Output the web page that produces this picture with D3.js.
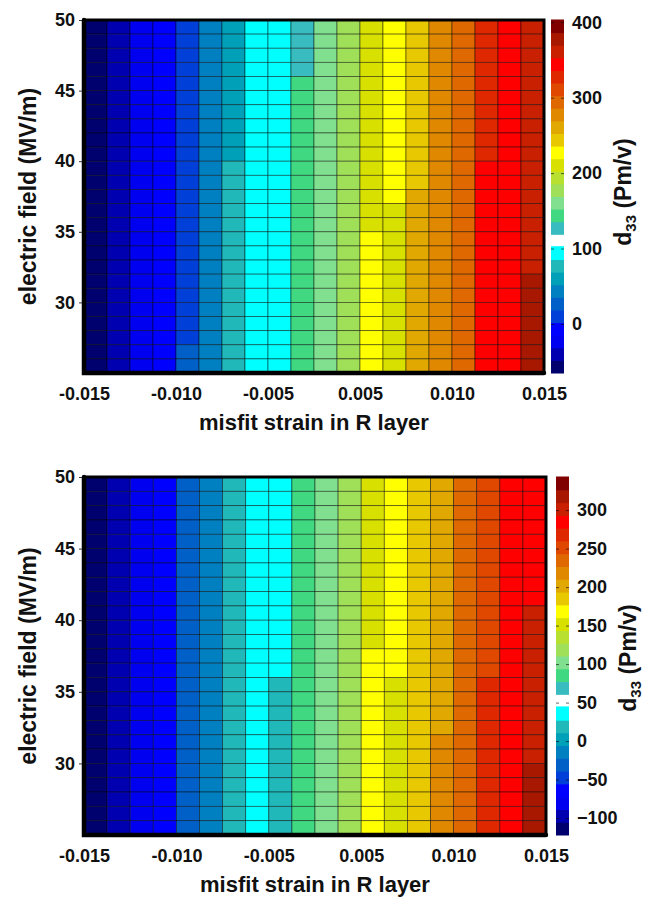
<!DOCTYPE html>
<html>
<head>
<meta charset="utf-8">
<script src="https://cdn.jsdelivr.net/npm/d3@7/dist/d3.min.js"></script>
<style>
  body { margin: 0; background: #fff; }
  svg text { font-family: "Liberation Sans", Arial, sans-serif; font-weight: bold; fill: #111; }
</style>
</head>
<body>
<svg id="fig" width="654" height="900"></svg>
<script>
// misfit strain, left edge of every cell column
const strain = [-0.0150, -0.0135, -0.0120, -0.0105, -0.0090, -0.0075, -0.0060, -0.0045, -0.0030, -0.0015,
                 0.0000,  0.0015,  0.0030,  0.0045,  0.0060,  0.0075,  0.0090,  0.0105,  0.0120,  0.0135]
const strainStep = 0.0015
// electric field (MV/m), lower edge of every cell row, top row first
const field = [49, 48, 47, 46, 45, 44, 43, 42, 41, 40, 39, 38, 37, 36, 35, 34, 33, 32, 31, 30, 29, 28, 27, 26, 25]
const fieldStep = 1

// the axis labels are spread evenly, 0 is not printed
const xTickValues = [-0.015, -0.009, -0.003, 0.003, 0.009, 0.015]
const xTickLabels = ["-0.015", "-0.010", "-0.005", "0.005", "0.010", "0.015"]
const yTickValues = [30, 35, 40, 45, 50]

const topRange = [-65, 403]
const topTicks = [0, 100, 200, 300, 400]
const botRange = [-122, 343]
const botTicks = [-100, -50, 0, 50, 100, 150, 200, 250, 300]

// d33 (pm/V), upper panel, rows in the order of `field`
const d33Top = [
  [-56, -40, -23, -7, 10, 44, 60, 94, 110, 127, 160, 177, 211, 228, 244, 278, 294, 328, 345, 361],
  [-56, -40, -23, -7, 10, 44, 60, 94, 110, 127, 160, 177, 211, 228, 244, 278, 294, 328, 345, 361],
  [-56, -40, -23, -7, 10, 44, 60, 94, 110, 127, 160, 177, 211, 228, 244, 278, 294, 328, 345, 361],
  [-56, -40, -23, -7, 10, 44, 60, 94, 110, 127, 160, 177, 211, 228, 244, 278, 294, 328, 345, 361],
  [-56, -40, -23, -7, 10, 44, 60, 94, 110, 144, 160, 177, 211, 228, 244, 278, 294, 328, 345, 361],
  [-56, -40, -23, -7, 10, 44, 60, 94, 110, 144, 160, 177, 211, 228, 244, 278, 294, 328, 345, 361],
  [-56, -40, -23, -7, 10, 44, 60, 94, 110, 144, 160, 177, 211, 228, 244, 278, 294, 328, 345, 361],
  [-56, -40, -23, -7, 10, 44, 60, 94, 110, 144, 160, 177, 211, 228, 244, 278, 294, 328, 345, 361],
  [-56, -40, -23, -7, 10, 44, 60, 94, 110, 144, 160, 177, 211, 228, 244, 278, 294, 328, 345, 361],
  [-56, -40, -23, -7, 10, 44, 60, 94, 110, 144, 160, 177, 211, 228, 244, 278, 294, 328, 345, 361],
  [-56, -40, -23, -7, 10, 44, 77, 94, 110, 144, 160, 177, 211, 228, 244, 278, 294, 345, 345, 361],
  [-56, -40, -23, -7, 10, 44, 77, 94, 110, 144, 160, 177, 211, 228, 244, 278, 294, 345, 345, 361],
  [-56, -40, -23, -7, 10, 44, 77, 94, 110, 144, 160, 177, 211, 228, 261, 278, 294, 345, 345, 361],
  [-56, -40, -23, -7, 10, 44, 77, 94, 110, 144, 160, 177, 211, 211, 261, 278, 294, 345, 345, 361],
  [-56, -40, -23, -7, 10, 44, 77, 94, 110, 144, 160, 177, 211, 211, 261, 278, 294, 345, 345, 361],
  [-56, -40, -23, -7, 10, 44, 77, 94, 110, 144, 160, 177, 228, 211, 261, 278, 294, 345, 345, 361],
  [-56, -40, -23, -7, 10, 44, 77, 94, 110, 144, 160, 177, 228, 211, 261, 278, 294, 345, 345, 361],
  [-56, -40, -23, -7, 10, 44, 77, 94, 110, 144, 160, 177, 228, 211, 261, 278, 294, 345, 345, 361],
  [-56, -40, -23, -7, 10, 44, 77, 94, 110, 144, 160, 177, 228, 211, 261, 278, 294, 345, 345, 378],
  [-56, -40, -23, -7, 10, 44, 77, 94, 110, 144, 160, 177, 228, 211, 261, 278, 294, 345, 345, 378],
  [-56, -40, -23, -7, 10, 44, 77, 94, 110, 144, 160, 177, 228, 211, 261, 278, 294, 345, 345, 378],
  [-56, -40, -23, -7, 10, 44, 77, 94, 110, 144, 160, 177, 228, 211, 261, 278, 294, 345, 345, 378],
  [-56, -40, -23, -7, 10, 44, 77, 94, 110, 144, 160, 177, 228, 211, 261, 278, 294, 345, 345, 378],
  [-56, -40, -23, -7, 27, 44, 77, 94, 110, 144, 160, 177, 228, 211, 261, 278, 294, 345, 345, 378],
  [-56, -40, -23, -7, 27, 44, 77, 94, 110, 144, 160, 177, 228, 211, 261, 278, 294, 345, 345, 378]
]

// d33 (pm/V), lower panel
const d33Bot = [
  [-114, -97, -80, -64, -31, -14, 19, 52, 52, 86, 102, 119, 152, 169, 185, 202, 235, 252, 285, 285],
  [-114, -97, -80, -64, -31, -14, 19, 52, 52, 86, 102, 119, 152, 169, 185, 202, 235, 252, 285, 285],
  [-114, -97, -80, -64, -31, -14, 19, 52, 52, 86, 102, 119, 152, 169, 185, 202, 235, 252, 285, 285],
  [-114, -97, -80, -64, -31, -14, 19, 52, 52, 86, 102, 119, 152, 169, 185, 202, 235, 252, 285, 285],
  [-114, -97, -80, -64, -31, -14, 19, 52, 52, 86, 102, 119, 152, 169, 185, 202, 235, 252, 285, 285],
  [-114, -97, -80, -64, -31, -14, 19, 52, 52, 86, 102, 119, 152, 169, 185, 202, 235, 252, 285, 285],
  [-114, -97, -80, -64, -31, -14, 19, 52, 52, 86, 102, 119, 152, 169, 185, 202, 235, 252, 285, 285],
  [-114, -97, -80, -64, -31, -14, 19, 52, 52, 86, 102, 119, 152, 169, 185, 202, 235, 252, 285, 285],
  [-114, -97, -80, -64, -31, -14, 19, 52, 52, 86, 102, 119, 152, 169, 185, 202, 235, 252, 285, 285],
  [-114, -97, -80, -64, -31, -14, 19, 52, 52, 86, 102, 119, 152, 169, 185, 202, 235, 252, 285, 301],
  [-114, -97, -80, -64, -31, -14, 19, 52, 52, 86, 102, 119, 152, 169, 185, 202, 235, 252, 285, 301],
  [-114, -97, -80, -64, -31, -14, 19, 52, 52, 86, 102, 119, 152, 169, 185, 202, 235, 252, 285, 301],
  [-114, -97, -80, -64, -31, -14, 19, 52, 52, 86, 102, 119, 169, 169, 185, 202, 235, 252, 285, 301],
  [-114, -97, -80, -64, -31, -14, 19, 52, 52, 86, 102, 119, 169, 169, 185, 202, 235, 252, 285, 301],
  [-114, -97, -80, -64, -31, -14, 19, 52, 19, 86, 102, 119, 169, 152, 185, 202, 235, 268, 285, 301],
  [-114, -97, -80, -64, -31, -14, 19, 52, 19, 86, 102, 119, 169, 152, 185, 202, 235, 268, 285, 301],
  [-114, -97, -80, -64, -31, -14, 19, 52, 19, 86, 102, 119, 169, 152, 185, 202, 235, 268, 285, 301],
  [-114, -97, -80, -64, -31, -14, 19, 52, 19, 86, 102, 119, 169, 152, 185, 202, 235, 268, 285, 301],
  [-114, -97, -80, -64, -31, -14, 19, 52, 19, 86, 102, 119, 169, 152, 185, 218, 235, 268, 285, 301],
  [-114, -97, -80, -64, -31, -14, 19, 52, 19, 86, 102, 119, 169, 152, 185, 218, 235, 268, 285, 301],
  [-114, -97, -80, -64, -31, -14, 19, 52, 19, 86, 102, 119, 169, 152, 185, 218, 235, 268, 285, 318],
  [-114, -97, -80, -64, -31, -14, 19, 52, 19, 86, 102, 119, 169, 152, 185, 218, 235, 268, 285, 318],
  [-114, -97, -80, -64, -31, -14, 19, 52, 19, 86, 102, 119, 169, 152, 185, 218, 235, 268, 285, 318],
  [-114, -97, -80, -64, -31, -14, 19, 52, 19, 86, 102, 119, 169, 152, 185, 218, 235, 268, 285, 318],
  [-114, -97, -80, -64, -31, -14, 19, 52, 19, 86, 102, 119, 169, 152, 185, 218, 235, 268, 285, 318]
]

// stepped jet-like map as printed in the figure, low to high
const palette = [
  "#00006e", "#0000b0", "#0000f0", "#0000ff", "#0040d8", "#0060c8", "#0080c0",
  "#00a0b8", "#20b8b8", "#00ffff", "#00ffff", "#38bcc0", "#40d880", "#80e090",
  "#a0e058", "#b8e030", "#d8e000", "#ffff00", "#e8c800", "#e0a800", "#e08800",
  "#e06800", "#e04800", "#e02800", "#ff0000", "#c82000", "#a81800", "#800000"
]

const svg = d3.select("#fig")

function panel(cfg) {
  const g = svg.append("g")
  const x = d3.scaleLinear().domain([-0.015, 0.015]).range([cfg.x0, cfg.x1])
  const y = d3.scaleLinear().domain([25, 50]).range([cfg.y1, cfg.y0])
  const color = d3.scaleQuantize().domain(cfg.range).range(palette)

  // cells
  const cells = []
  cfg.values.forEach((row, r) => row.forEach((v, c) => cells.push({ s: strain[c], f: field[r], v: v })))
  g.append("g").selectAll("rect").data(cells).join("rect")
    .attr("x", d => x(d.s))
    .attr("y", d => y(d.f + fieldStep))
    .attr("width", d => x(d.s + strainStep) - x(d.s))
    .attr("height", d => y(d.f) - y(d.f + fieldStep))
    .attr("fill", d => color(d.v))
    .attr("stroke", "rgba(0,0,0,0.55)")
    .attr("stroke-width", 0.8)

  // frame, heavier on left and bottom like the print
  g.append("path")
    .attr("d", `M${cfg.x0},${cfg.y0}H${cfg.x1}V${cfg.y1}`)
    .attr("fill", "none").attr("stroke", "#000").attr("stroke-width", 3)
  g.append("path")
    .attr("d", `M${cfg.x0},${cfg.y0}V${cfg.y1}H${cfg.x1}`)
    .attr("fill", "none").attr("stroke", "#000").attr("stroke-width", 4.5)
    .attr("stroke-linecap", "round")

  // axes
  const xa = g.append("g").attr("transform", `translate(0,${cfg.y1 + 2})`)
    .call(d3.axisBottom(x).tickValues(xTickValues).tickFormat((d, i) => xTickLabels[i]).tickSize(0).tickPadding(12))
  const ya = g.append("g").attr("transform", `translate(${cfg.x0 - 2},0)`)
    .call(d3.axisLeft(y).tickValues(yTickValues).tickSize(3).tickPadding(4))
  ;[xa, ya].forEach(a => {
    a.select(".domain").remove()
    a.selectAll("text").attr("font-size", 18).attr("fill", "#111")
  })
  ya.selectAll("line").attr("stroke", "#333")

  g.append("text").attr("x", (cfg.x0 + cfg.x1) / 2).attr("y", cfg.y1 + 57)
    .attr("text-anchor", "middle").attr("font-size", 22).text("misfit strain in R layer")
  g.append("text").attr("transform", `translate(36,${(cfg.y0 + cfg.y1) / 2}) rotate(-90)`)
    .attr("text-anchor", "middle").attr("font-size", 23).text("electric field (MV/m)")

  // colour bar, bands overlap a little so no seams show
  const cb = d3.scaleLinear().domain(cfg.range).range([cfg.y1, cfg.y0])
  const bands = d3.range(palette.length).map(i => color.invertExtent(palette[i]))
  g.append("g").selectAll("rect").data(bands).join("rect")
    .attr("x", cfg.cbX).attr("width", 13)
    .attr("y", d => cb(d[1]) - 0.5).attr("height", d => cb(d[0]) - cb(d[1]) + 1)
    .attr("fill", (d, i) => palette[i])
  // tick dashes on both edges of the bar
  const cl = g.append("g").attr("transform", `translate(${cfg.cbX},0)`)
    .call(d3.axisLeft(cb).tickValues(cfg.ticks).tickSizeInner(-3).tickSizeOuter(0).tickFormat(""))
  cl.select(".domain").remove()
  cl.selectAll("line").attr("stroke", "rgba(0,0,0,0.6)")
  const ca = g.append("g").attr("transform", `translate(${cfg.cbX + 13},0)`)
    .call(d3.axisRight(cb).tickValues(cfg.ticks).tickSizeInner(-3).tickSizeOuter(0).tickPadding(8))
  ca.select(".domain").remove()
  ca.selectAll("line").attr("stroke", "rgba(0,0,0,0.6)")
  ca.selectAll("text").attr("font-size", 18).attr("fill", "#111")

  const t = g.append("text").attr("transform", `translate(${cfg.cbX + 80},${cfg.titleY}) rotate(-90)`)
    .attr("text-anchor", "middle").attr("font-size", 23)
  t.append("tspan").text("d")
  t.append("tspan").attr("font-size", 15).attr("dy", 5).text("33")
  t.append("tspan").attr("dy", -5).text(" (Pm/v)")
}

panel({ x0: 84, x1: 544, y0: 20, y1: 373, cbX: 551, range: topRange, ticks: topTicks, values: d33Top, titleY: 192 })
panel({ x0: 84, x1: 546, y0: 477, y1: 835, cbX: 556, range: botRange, ticks: botTicks, values: d33Bot, titleY: 658 })
</script>
</body>
</html>
